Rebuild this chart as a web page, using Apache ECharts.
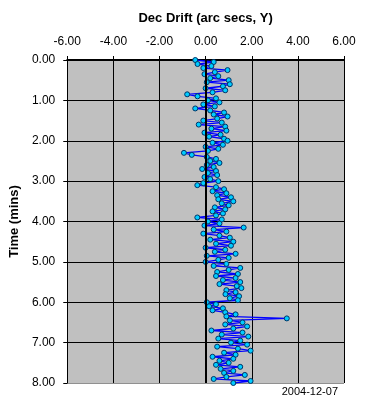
<!DOCTYPE html>
<html>
<head>
<meta charset="utf-8">
<script src="https://cdn.jsdelivr.net/npm/echarts@6/dist/echarts.min.js"></script>
<style>html,body{margin:0;padding:0;background:#fff}#c{width:379px;height:408px}</style>
</head>
<body>
<div id="c"></div>
<script>
// Sample times (minutes)
var times = [
0.00,0.05,0.10,0.15,0.20,0.25,0.30,0.35,0.40,0.45,0.50,0.55,0.60,0.65,0.70,0.75,0.80,0.85,0.90,0.95,
1.00,1.05,1.10,1.15,1.20,1.25,1.30,1.35,1.40,1.45,1.50,1.55,1.60,1.65,1.70,1.75,1.80,1.85,1.90,1.95,
2.00,2.05,2.10,2.15,2.20,2.25,2.30,2.35,2.40,2.45,2.50,2.55,2.60,2.65,2.70,2.75,2.80,2.85,2.90,2.95,
3.00,3.05,3.10,3.15,3.20,3.25,3.30,3.35,3.40,3.45,3.50,3.55,3.60,3.65,3.70,3.75,3.80,3.85,3.90,3.95,
4.00,4.05,4.10,4.15,4.20,4.25,4.30,4.35,4.40,4.45,4.50,4.55,4.60,4.65,4.70,4.75,4.80,4.85,4.90,4.95,
5.00,5.05,5.10,5.15,5.20,5.25,5.30,5.35,5.40,5.45,5.50,5.55,5.60,5.65,5.70,5.75,5.80,5.85,5.90,5.95,
6.00,6.05,6.10,6.15,6.20,6.25,6.30,6.35,6.40,6.45,6.50,6.55,6.60,6.65,6.70,6.75,6.80,6.85,6.90,6.95,
7.00,7.05,7.10,7.15,7.20,7.25,7.30,7.35,7.40,7.45,7.50,7.55,7.60,7.65,7.70,7.75,7.80,7.85,7.90,7.95,
8.00];
// Dec drift (arc secs, Y)
var drift = [
-0.45,0.35,-0.35,0.25,-0.10,0.95,0.40,-0.05,0.55,0.20,1.00,0.05,1.05,0.75,0.00,0.85,0.30,-0.80,-0.35,0.45,
0.10,0.60,-0.10,0.40,-0.45,0.20,0.80,0.35,0.95,0.50,-0.10,0.70,-0.30,0.85,0.25,0.90,-0.05,0.65,0.15,0.80,
0.95,0.30,0.75,0.00,0.55,0.10,-0.94,-0.60,0.05,0.45,0.20,0.60,0.05,0.35,-0.15,0.45,0.10,0.50,-0.05,0.20,
0.55,-0.10,-0.36,0.45,0.80,0.30,0.90,0.50,1.10,0.55,1.20,0.70,1.00,0.40,0.85,0.30,0.75,0.45,-0.36,0.70,
0.10,0.60,-0.05,1.65,0.35,0.90,-0.10,0.60,1.05,0.20,1.20,0.45,1.10,0.00,0.85,0.40,1.30,0.05,1.00,0.55,
0.00,0.90,0.35,1.50,1.00,0.50,1.40,0.45,1.30,0.75,1.50,0.60,1.35,1.55,0.90,1.30,0.86,1.45,1.05,1.40,
0.05,0.45,0.15,0.75,0.30,0.85,1.30,0.90,3.52,1.05,1.60,0.85,1.80,1.20,0.25,1.60,0.70,1.85,0.55,1.50,
1.10,1.80,0.50,1.40,1.95,0.80,1.30,0.30,1.20,0.60,1.00,0.45,1.50,0.65,1.20,0.80,1.70,0.90,0.35,1.95,
1.20];
var xTicks = [-6, -4, -2, 0, 2, 4, 6];
var yTicks = [0, 1, 2, 3, 4, 5, 6, 7, 8];
var dateNote = "2004-12-07";

var pts = times.map(function (t, i) { return [drift[i], t]; });
var font = '"Liberation Sans", Arial, sans-serif';
var chart = echarts.init(document.getElementById('c'), null, {renderer: 'canvas'});
chart.setOption({
  animation: false,
  backgroundColor: '#ffffff',
  grid: {left: 66, right: 35, top: 60, bottom: 25, show: true, backgroundColor: '#C0C0C0', borderWidth: 0},
  xAxis: {
    type: 'value', position: 'top',
    min: xTicks[0], max: xTicks[xTicks.length - 1], interval: 2,
    name: 'Dec Drift (arc secs, Y)', nameLocation: 'middle', nameGap: 35,
    nameTextStyle: {fontFamily: font, fontSize: 13, fontWeight: 'bold', color: '#000'},
    axisLine: {show: true, onZero: false, lineStyle: {color: '#000', width: 2}},
    axisTick: {show: true, length: 4, lineStyle: {color: '#000'}},
    axisLabel: {margin: 12, fontFamily: font, fontSize: 12, color: '#000', formatter: function (v) { return v.toFixed(2); }},
    splitLine: {show: true, lineStyle: {color: '#000', width: 1}}
  },
  yAxis: {
    type: 'value', inverse: true,
    min: yTicks[0], max: yTicks[yTicks.length - 1], interval: 1,
    name: 'Time (mins)', nameLocation: 'middle', nameGap: 40,
    nameTextStyle: {fontFamily: font, fontSize: 13, fontWeight: 'bold', color: '#000'},
    axisLine: {show: true, onZero: false, lineStyle: {color: '#000', width: 1}},
    axisTick: {show: true, length: 4, lineStyle: {color: '#000'}},
    axisLabel: {margin: 12, fontFamily: font, fontSize: 12, color: '#000', formatter: function (v) { return v.toFixed(2); }},
    splitLine: {show: true, lineStyle: {color: ['#000','#000','#000','#000','#000','#000','#000','#000','#909090'], width: 1}}
  },
  series: [{
    type: 'line',
    data: pts,
    symbol: 'circle', symbolSize: 5,
    showSymbol: true,
    lineStyle: {color: '#0000FF', width: 1.3},
    itemStyle: {color: '#00CCFF', borderColor: '#003366', borderWidth: 1},
    markLine: {
      silent: true, symbol: 'none', label: {show: false},
      lineStyle: {color: '#000', width: 2, type: 'solid'},
      data: [{xAxis: 0}]
    },
    z: 3
  }],
  graphic: [{
    type: 'text', right: 41, top: 386,
    style: {text: dateNote, font: '11px ' + font, fill: '#000'}
  }]
});
</script>
</body>
</html>
